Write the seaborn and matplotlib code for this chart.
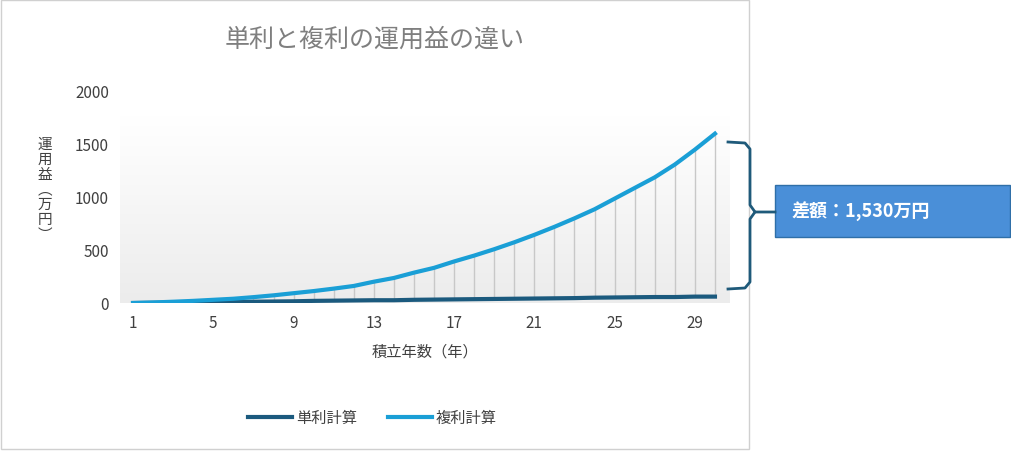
import numpy as np
import matplotlib
matplotlib.use("Agg")
import matplotlib.pyplot as plt
import seaborn as sns
import pandas as pd
from matplotlib.patches import Rectangle

plt.rcParams["font.family"] = "Noto Sans CJK JP"

years = list(range(1, 31))
simple = [0, 2, 4, 6, 8, 10, 12, 14, 16, 20, 22, 24, 26, 26, 30, 32, 34, 36, 38, 40, 42, 44, 46, 50, 52, 54, 56, 56, 60, 60]
compound = [0, 5, 12, 20, 30, 40, 55, 72, 92, 112, 135, 160, 200, 235, 285, 330, 390, 445, 505, 570,
            640, 715, 795, 880, 980, 1080, 1180, 1300, 1440, 1590]
xticks = [1, 5, 9, 13, 17, 21, 25, 29]
yticks = [0, 500, 1000, 1500, 2000]

W, H = 1012, 452
fig = plt.figure(figsize=(W/100, H/100), dpi=100)
ax = fig.add_axes([120/W, (H-304)/H, (730-120)/W, (304-91)/H])

grad = np.linspace(0, 1, 256).reshape(-1, 1)
ax.imshow(grad, extent=[0.35, 30.75, 0, 1750], aspect="auto", cmap=matplotlib.colors.LinearSegmentedColormap.from_list("g", ["#ffffff", "#ececec"]), zorder=0)
ax.vlines(years, simple, compound, color="#c8c8c8", lw=1, zorder=1)

df = pd.DataFrame({"年": years * 2, "値": simple + compound,
                   "系列": ["単利計算"] * 30 + ["複利計算"] * 30})
sns.lineplot(data=df, x="年", y="値", hue="系列", palette=["#1b5a7e", "#1a9fd6"], lw=3, ax=ax, legend=False, zorder=3)

ax.set_xlim(0.35, 30.75)
ax.set_ylim(0, 2000)
ax.set_xticks(xticks)
ax.set_yticks(yticks)
for s in ax.spines.values():
    s.set_visible(False)
ax.tick_params(length=0, labelsize=11, colors="#404040", pad=8)
ax.set_xlabel("積立年数（年）", fontsize=11, color="#404040", labelpad=8)
ax.set_ylabel("")
fig.text(45/W, 1-190/H, "運\n用\n益\n︵\n万\n円\n︶", fontsize=10.5, color="#404040", ha="center", va="center", linespacing=1.1)
fig.text(375/W, 1-40/H, "単利と複利の運用益の違い", fontsize=18, color="#7f7f7f", ha="center", va="center")

ov = fig.add_axes([0, 0, 1, 1], facecolor="none")
ov.set_xlim(0, W); ov.set_ylim(H, 0); ov.axis("off")
ov.add_patch(Rectangle((1, 1), 748, 449, fill=False, ec="#d0d0d0", lw=1))
ov.plot([248, 292], [418, 418], color="#1b5a7e", lw=3)
ov.text(296, 418, "単利計算", fontsize=11, color="#404040", va="center")
ov.plot([388, 432], [418, 418], color="#1a9fd6", lw=3)
ov.text(436, 418, "複利計算", fontsize=11, color="#404040", va="center")
c = "#1f5a7a"
ov.plot([728, 745, 750, 750, 755, 775], [143, 144, 150, 206, 213, 213], color=c, lw=2)
ov.plot([728, 745, 750, 750, 755], [290, 289, 283, 220, 213], color=c, lw=2)
ov.add_patch(Rectangle((775, 186), 235, 52, fc="#4a8fd8", ec="#2f6fa8", lw=1))
ov.text(792, 212, "差額：1,530万円", fontsize=13, fontweight="bold", color="white", va="center")

fig.savefig("out.png", dpi=100)
